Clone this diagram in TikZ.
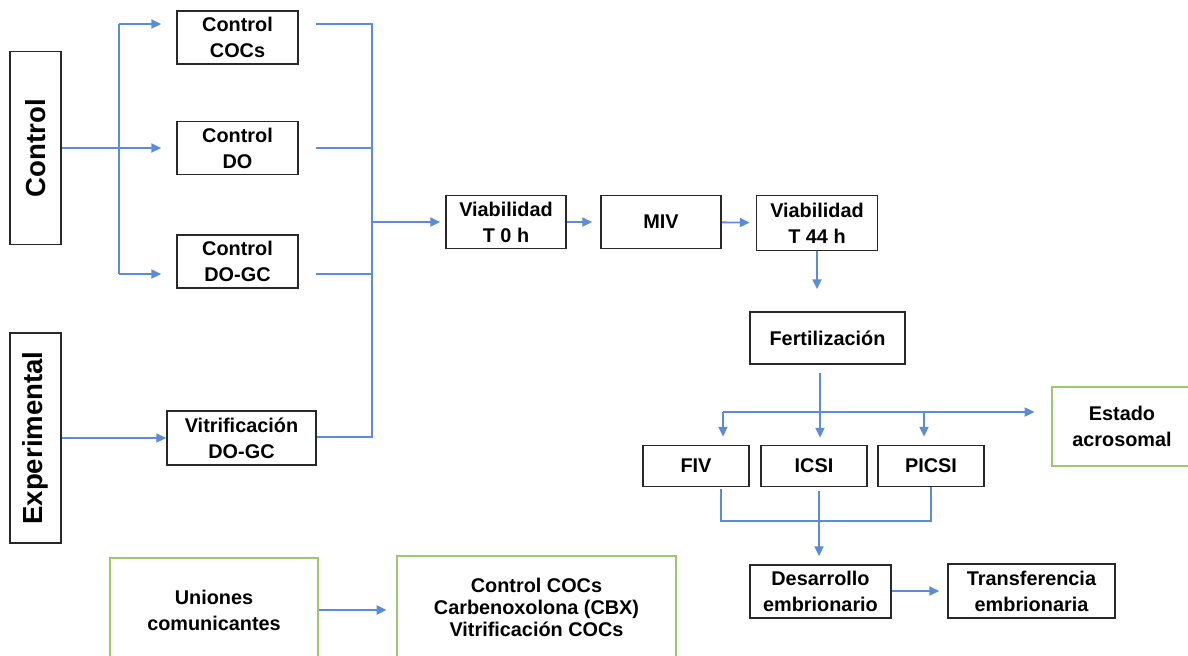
\documentclass[tikz,border=0pt]{standalone}
\usepackage{fontspec}
\setmainfont{Liberation Sans}
\usetikzlibrary{arrows.meta}

\definecolor{linkblue}{RGB}{91,141,214}
\definecolor{boxgreen}{RGB}{155,200,110}
\definecolor{boxgray}{RGB}{40,40,40}

\begin{document}
\begin{tikzpicture}[x=0.02cm, y=-0.02cm]

% Styles
\tikzset{
  box/.style={draw=boxgray, line width=1pt, align=center, inner sep=0pt,
    font=\bfseries\fontsize{11.3}{14.8}\selectfont},
  gbox/.style={box, draw=boxgreen, line width=0.7pt},
  group/.style={box, font=\bfseries\fontsize{15.7}{18}\selectfont},
  line/.style={draw=linkblue, line width=1.05pt},
  link/.style={line, -{Triangle[length=5.6pt, width=5.2pt]}}
}

\useasboundingbox (0,0) rectangle (1188,656);

% Groups
\node[group, minimum width=1.02cm, minimum height=3.86cm] (ctrl) at (35.5,148) {\rotatebox{90}{Control}};
\node[group, minimum width=1.02cm, minimum height=4.2cm] (expt) at (35.5,438) {\rotatebox{90}{Experimental}};

% Treatments
\node[box, minimum width=2.42cm, minimum height=1.05cm] (cCOC) at (237.5,37.5) {Control\\COCs};
\node[box, minimum width=2.42cm, minimum height=1.06cm] (cDO) at (237.5,148) {Control\\DO};
\node[box, minimum width=2.42cm, minimum height=1.06cm] (cDOGC) at (237.5,261.5) {Control\\DO-GC};
\node[box, minimum width=2.98cm, minimum height=1.08cm] (vDOGC) at (241.5,438) {Vitrificación\\DO-GC};

% Main line
\node[box, minimum width=2.4cm, minimum height=1.06cm] (via0) at (506,222) {Viabilidad\\T 0 h};
\node[box, minimum width=2.4cm, minimum height=1.06cm] (miv) at (661,222) {MIV};
\node[box, minimum width=2.42cm, minimum height=1.1cm] (via44) at (817,223) {Viabilidad\\T 44 h};
\node[box, minimum width=3.1cm, minimum height=1.04cm] (fert) at (827.5,338) {Fertilización};
\node[box, minimum width=2.12cm, minimum height=0.82cm] (fiv) at (696,466) {FIV};
\node[box, minimum width=2.12cm, minimum height=0.82cm] (icsi) at (814,466) {ICSI};
\node[box, minimum width=2.12cm, minimum height=0.82cm] (picsi) at (931,466) {PICSI};
\node[gbox, minimum width=2.8cm, minimum height=1.58cm] (estado) at (1122,426.5) {Estado\\acrosomal};
\node[box, minimum width=2.82cm, minimum height=1.06cm] (desa) at (820.5,591.5) {Desarrollo\\embrionario};
\node[box, minimum width=3.34cm, minimum height=1.08cm] (trans) at (1031.5,591) {Transferencia\\embrionaria};

% Gap junctions
\node[gbox, minimum width=4.16cm, minimum height=2.08cm] (union) at (214,610) {Uniones\\comunicantes};
\node[gbox, minimum width=5.58cm, minimum height=2.04cm,
  font=\bfseries\fontsize{11.3}{12.5}\selectfont] (cbx) at (536.5,607) {Control COCs\\Carbenoxolona (CBX)\\Vitrificación COCs};

% Coordinates
\coordinate (bl1) at (119,24);   % left bus
\coordinate (bl2) at (119,274);
\coordinate (br1) at (372,24);   % right bus
\coordinate (br2) at (372,437);
\coordinate (fx) at (820,0);
\coordinate (hl) at (723,412);   % split after fertilizacion
\coordinate (hp) at (924,412);
\coordinate (m1) at (721,521);   % merge before desarrollo
\coordinate (m2) at (931,521);
\coordinate (m3) at (819,521);

% Control branches
\draw[line] (bl1) -- (bl2);
\draw[link, shorten >=0.3cm] (ctrl.east) -- (cDO.west);
\draw[link, shorten >=0.3cm] (bl1) -- (cCOC.west |- bl1);
\draw[link, shorten >=0.3cm] (bl2) -- (cDOGC.west |- bl2);
\draw[link] (expt.east) -- (vDOGC.west);

% Collect to viabilidad
\draw[line, shorten <=0.34cm] (cCOC.east |- br1) -- (br1) -- (br2) -- (vDOGC.east |- br2);
\draw[line, shorten <=0.34cm] (cDO.east) -- (cDO.east -| br1);
\draw[line, shorten <=0.34cm] (cDOGC.east |- bl2) -- (br1 |- bl2);
\draw[link, shorten >=0.1cm] (via0.west -| br1) -- (via0.west);

% Maturation
\draw[link, shorten >=0.16cm] (via0) -- (miv);
\draw[link, shorten >=0.12cm] (miv) -- (via44);
\draw[link, shorten >=0.44cm] (via44.south) -- (via44.south |- fert.north);

% Fertilization
\draw[link, shorten <=0.16cm, shorten >=0.14cm] (fert.south -| fx) -- (icsi.north -| fx);
\draw[line] (hl) -- (hp);
\draw[link, shorten >=0.34cm] (hp) -- (estado.west |- hp);
\draw[link, shorten >=0.16cm] (hl) -- (hl |- fiv.north);
\draw[link, shorten >=0.16cm] (hp) -- (hp |- picsi.north);

% Development
\draw[line, shorten <=0.04cm] (m1 |- fiv.south) -- (m1) -- (m2) -- (m2 |- picsi.south);
\draw[link, shorten <=0.08cm, shorten >=0.16cm] (m3 |- icsi.south) -- (m3 |- desa.north);
\draw[link, shorten >=0.16cm] (desa.east |- trans.west) -- (trans.west);

% Gap junctions
\draw[link, shorten >=0.2cm] (union.east) -- (cbx.west |- union.east);

\end{tikzpicture}
\end{document}
